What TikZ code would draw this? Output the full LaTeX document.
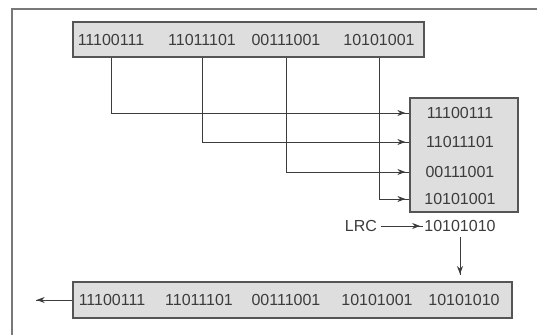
\documentclass[tikz,border=0pt]{standalone}
\usepackage{fontspec}
\setmainfont{Liberation Sans}
\usetikzlibrary{arrows.meta,decorations.markings}
\definecolor{ink}{RGB}{60,60,60}
\definecolor{boxfill}{RGB}{222,222,222}
\definecolor{boxline}{RGB}{85,85,85}
\definecolor{framec}{RGB}{120,120,120}
\tikzset{
  bitbox/.style={draw=boxline, line width=0.9pt, fill=boxfill, inner sep=0pt},
  word/.style={inner sep=0pt, text=ink, font=\fontsize{12pt}{14pt}\selectfont},
  conn/.style={draw=ink, line width=0.7pt},
  tipat/.style={postaction={decorate,decoration={markings,
      mark=at position #1 with {\arrow{Stealth[length=6pt,width=4.5pt]}}}}},
  framel/.style={draw=framec, line width=0.8pt}
}
\begin{document}
\begin{tikzpicture}[x=0.75pt,y=-0.75pt]
\useasboundingbox[fill=white] (0,0) rectangle (537,335);
% outer frame
\coordinate (fb) at (12,335);
\coordinate (fc) at (12,9);
\coordinate (fr) at (537,9);
\draw[framel] (fb) -- (fc) -- (fr);

% top box
\node[bitbox, minimum width=263.25pt, minimum height=26.25pt] (top) at (248.5,39.5) {};
\node[word] (t1) at (111,40) {11100111};
\node[word] (t2) at (202,40) {11011101};
\node[word] (t3) at (286,40) {00111001};
\node[word] (t4) at (379,40) {10101001};

% right box
\node[bitbox, minimum width=81pt, minimum height=85.5pt] (rbox) at (464,155) {};
\node[word] (r1) at (460,113) {11100111};
\node[word] (r2) at (460,142) {11011101};
\node[word] (r3) at (460,172) {00111001};
\node[word] (r4) at (460,199) {10101001};

\draw[conn, tipat=-3pt] (t1 |- top.south) |- (r1 -| rbox.west);
\draw[conn, tipat=-3pt] (t2 |- top.south) |- (r2 -| rbox.west);
\draw[conn, tipat=-3pt] (t3 |- top.south) |- (r3 -| rbox.west);
\draw[conn, tipat=-3pt] (t4 |- top.south) |- (r4 -| rbox.west);

% LRC
\node[word] (lrc) at (361,226) {LRC};
\node[word] (lrcv) at (460,226) {10101010};
\draw[conn, tipat=-2pt] ([xshift=3pt]lrc.east) -- ([xshift=-1pt]lrcv.west);

% bottom box
\node[bitbox, minimum width=329.25pt, minimum height=27pt] (bot) at (292.5,300) {};
\node[word] (b1) at (112,300) {11100111};
\node[word] (b2) at (199,300) {11011101};
\node[word] (b3) at (286,300) {00111001};
\node[word] (b4) at (377,300) {10101001};
\node[word] (b5) at (464,300) {10101010};

\draw[conn, tipat=-1pt] ([yshift=-4pt]lrcv.south) -- ([yshift=4.5pt]lrcv.south |- bot.north);

\coordinate (out) at (36,300);
\draw[conn, tipat=-0.5pt] (bot.west) -- (out);
\end{tikzpicture}
\end{document}
